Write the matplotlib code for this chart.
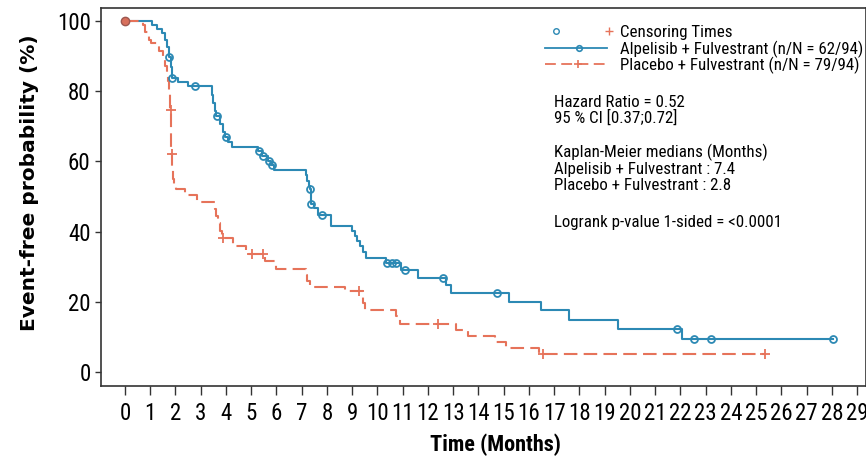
import numpy as np
import logging
import matplotlib
matplotlib.use("Agg")
import matplotlib.pyplot as plt

logging.getLogger("matplotlib.font_manager").setLevel(logging.ERROR)

# Kaplan-Meier step data (months, event-free %)
times_a = [0, 1.06, 1.25, 1.45, 1.58, 1.68, 1.73, 1.82, 1.85, 2.10, 2.50, 3.43, 3.50, 3.56, 3.62,
           3.75, 3.88, 3.97, 4.08, 4.22, 5.25, 5.42, 5.65, 5.80, 5.90, 7.15, 7.20, 7.28, 7.32,
           7.36, 7.37, 7.50, 7.65, 8.17, 9.00, 9.10, 9.20, 9.30, 9.42, 9.56, 10.32, 10.94,
           11.62, 12.72, 12.92, 15.20, 16.48, 17.60, 19.54, 22.08]
surv_a = [100, 98.9, 97.8, 96.7, 94.6, 92.5, 89.8, 86.8, 83.8, 82.6, 81.4, 79.0, 76.7, 74.4, 72.9,
          70.6, 68.3, 67.0, 65.6, 64.2, 62.9, 61.6, 60.2, 58.9, 57.5, 56.0, 54.5, 53.0, 52.0,
          49.8, 47.8, 46.6, 44.8, 41.6, 40.2, 38.7, 37.2, 35.8, 34.3, 32.6, 31.0, 29.1,
          26.8, 24.8, 22.5, 20.0, 17.6, 14.9, 12.3, 9.4]
end_a = 28.06
cens_a = [1.76, 1.88, 2.77, 3.65, 4.02, 5.30, 5.47, 5.72, 5.84, 7.34, 7.38, 7.81, 10.38,
          10.58, 10.75, 11.08, 12.59, 14.73, 21.86, 22.55, 23.23, 28.06]

times_b = [0, 0.72, 0.80, 0.95, 1.05, 1.35, 1.50, 1.60, 1.66, 1.70, 1.74, 1.78, 1.80, 1.82,
           1.83, 1.84, 1.86, 1.90, 1.96, 2.04, 2.37, 2.84, 3.56, 3.62, 3.70, 3.78, 3.85, 4.28,
           4.81, 5.54, 6.00, 7.15, 7.22, 7.32, 8.70, 9.43, 9.50, 10.74, 10.91, 13.10, 13.58,
           14.64, 15.10, 16.39]
surv_b = [100, 98.9, 96.8, 94.7, 93.6, 91.5, 89.4, 87.2, 85.1, 82.9, 79.7, 76.5, 74.6, 70.3,
          66.0, 62.1, 58.0, 55.0, 53.2, 52.1, 50.4, 48.3, 46.5, 44.5, 42.4, 40.3, 38.2, 35.8,
          33.6, 31.6, 29.4, 27.6, 25.9, 24.3, 23.1, 19.7, 17.7, 15.9, 13.7, 12.0, 10.3,
          8.5, 6.75, 5.0]
end_b = 25.36
cens_b = [1.81, 1.845, 3.89, 5.05, 5.47, 9.27, 12.39, 16.57, 25.36]

xticks = list(range(0, 30))
yticks = [0, 20, 40, 60, 80, 100]

blue = "#2C89B4"
red = "#E6735A"
narrow = ["Roboto Condensed", "Archivo Narrow", "PT Sans Narrow",
          "Sofia Sans Semi Condensed", "DejaVu Sans"]


def step_at(times, surv, t):
    i = np.searchsorted(times, t, side="right") - 1
    return np.asarray(surv)[i]


fig = plt.figure(figsize=(8.66, 4.58), dpi=100)
ax = fig.add_axes([101 / 866, 72 / 458, 765 / 866, 378 / 458])

# curves
xa = np.append(times_a, end_a)
ya = np.append(surv_a, surv_a[-1])
ax.step(xa, ya, where="post", color=blue, lw=1.5)
xb = np.append(times_b, end_b)
yb = np.append(surv_b, surv_b[-1])
ax.step(xb, yb, where="post", color=red, lw=1.5, linestyle=(0, (6.5, 3)))

# censoring marks
ax.plot(cens_a, step_at(times_a, surv_a, cens_a), "o", ms=5, mfc="none", mec=blue, mew=1.3)
ax.plot(cens_b, step_at(times_b, surv_b, cens_b), "+", ms=7, color=red, mew=1.3)
ax.plot(times_b[0], surv_b[0], "o", ms=6, mfc="#D8705C", mec="#9C5850", mew=1)

ax.set_xlim(-0.95, 29.35)
ax.set_ylim(-4, 103.7)
ax.set_xticks(xticks)
ax.set_yticks(yticks)
ax.tick_params(direction="out", width=1, color="#333333")
ax.tick_params(axis="y", length=4.5, pad=3)
ax.tick_params(axis="x", length=6.5, pad=5)
for lab in ax.get_xticklabels() + ax.get_yticklabels():
    lab.set_family(narrow)
    lab.set_fontsize(16.5)
for s in ax.spines.values():
    s.set_color("#333333")
    s.set_linewidth(1.2)


# legend block, placed in axes fractions
def fy(py):
    return (386 - py) / 378


def fx(px):
    return (px - 101) / 765


ax.set_xlabel("Time (Months)", family=narrow, fontsize=16, fontweight="bold")
ax.xaxis.set_label_coords(fx(495), fy(445), transform=ax.transAxes)
ax.xaxis.label.set_va("center")
fig.text(30 / 866, 1 - 183 / 458, "Event-free probability (%)", rotation=90,
         ha="center", va="center", family="DejaVu Sans", fontsize=14.5, fontweight="bold")

tr = ax.transAxes
ax.plot([fx(556)], [fy(31)], "o", ms=4, mfc="none", mec=blue, mew=1, transform=tr)
ax.plot([fx(609)], [fy(31)], "+", ms=6, color=red, mew=1, transform=tr)
ax.plot([fx(545), fx(607)], [fy(48), fy(48)], color=blue, lw=1.3, transform=tr)
ax.plot([fx(579)], [fy(48)], "o", ms=4, mfc="none", mec=blue, mew=1.2, transform=tr)
ax.plot([fx(545), fx(607)], [fy(64), fy(64)], color=red, lw=1.3, linestyle=(0, (6, 3)),
        transform=tr)
ax.plot([fx(578)], [fy(64)], "+", ms=6, color=red, mew=1.2, transform=tr)

legend_rows = [("Censoring Times", 37), ("Alpelisib + Fulvestrant (n/N = 62/94)", 54),
               ("Placebo + Fulvestrant (n/N = 79/94)", 70)]
for txt, py in legend_rows:
    ax.text(fx(620), fy(py), txt, transform=tr, ha="left", va="baseline",
            family=narrow, fontsize=12.2)

info_rows = [("Hazard Ratio = 0.52", 107), ("95 % CI [0.37;0.72]", 123),
             ("Kaplan-Meier medians (Months)", 157), ("Alpelisib + Fulvestrant : 7.4", 174),
             ("Placebo + Fulvestrant : 2.8", 190), ("Logrank p-value 1-sided = <0.0001", 227)]
for txt, py in info_rows:
    ax.text(fx(554), fy(py), txt, transform=tr, ha="left", va="baseline",
            family=narrow, fontsize=12.2)

fig.savefig("out.png", dpi=100)
